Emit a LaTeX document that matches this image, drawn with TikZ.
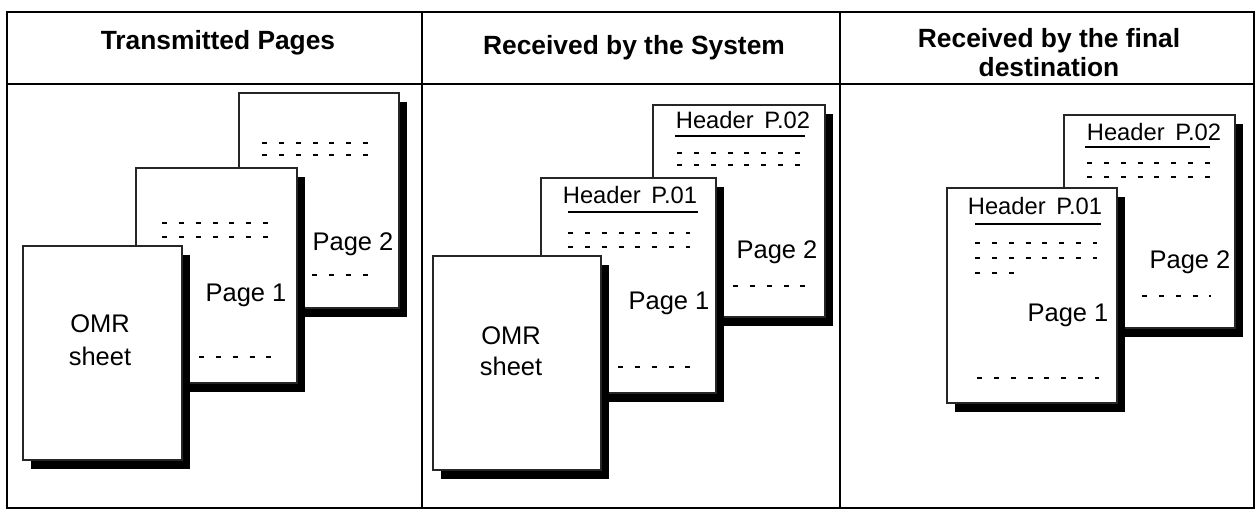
\documentclass[tikz,border=0pt]{standalone}
\usepackage{fontspec}
\setmainfont{Liberation Sans}
\usetikzlibrary{shadows}
\newcommand\pagerect[5]{\node[pagebox, minimum width={(#4-#2)*0.02cm}, minimum height={(#5-#3)*0.02cm}] (#1) at ({(#2+#4)/2},{(#3+#5)/2}) {};}
\begin{document}
\begin{tikzpicture}[x=0.02cm,y=-0.02cm,
  frame/.style={line width=1.1pt},
  pagebox/.style={draw=black!85, line width=0.6pt, fill=white, inner sep=0pt, outer sep=0pt,
    general shadow={fill=black, shadow xshift=0.16cm, shadow yshift=-0.18cm}},
  title/.style={font=\fontsize{15}{16.5}\selectfont\bfseries, align=center, inner sep=0pt},
  lbl/.style={font=\fontsize{14.5}{17}\selectfont, align=center, inner sep=0pt, anchor=base},
  hdr/.style={font=\fontsize{13.5}{16}\selectfont, inner sep=0pt, anchor=base},
  dsh/.style={line width=0.8pt, dash pattern=on 2.8pt off 6.8pt},
  uline/.style={line width=0.9pt}]
\useasboundingbox (0,0) rectangle (1256,516);
% frame
\draw[frame] (7,12) rectangle (1254,508);
\draw[frame] (422,12) -- (422,508);
\draw[frame] (840,12) -- (840,508);
\draw[frame] (7,84) -- (1254,84);
% titles
\node[title] (t1) at (218,43) {Transmitted Pages};
\node[title] (t2) at (634,48) {Received by the System};
\node[title] (t3) at (1049,53) {Received by the final\\destination};
% ---------- panel 1
\pagerect{a2}{239}{93}{399}{308}
\draw[dsh] (262,143) -- (373,143);
\draw[dsh] (262,155) -- (373,155);
\node[lbl] (a2t) at (353,251) {Page 2};
\draw[dsh] (312,275) -- (377,275);
\pagerect{a1}{136}{168}{297}{383}
\draw[dsh] (162,223) -- (278,223);
\draw[dsh] (162,237) -- (278,237);
\node[lbl] (a1t) at (246,302) {Page 1};
\draw[dsh] (199,357) -- (278,357);
\pagerect{a0}{23}{246}{182}{460}
\node[lbl] (a0t) at (100,333) {OMR};
\node[lbl] (a0s) at (100,365) {sheet};
% ---------- panel 2
\pagerect{b2}{653}{105}{825}{317}
\node[hdr] (b2h) at (743,129) {Header\hspace{0.45em}P.02};
\draw[uline] (675,136) -- (805,136);
\draw[dsh] (677,153) -- (800,153);
\draw[dsh] (677,165) -- (800,165);
\node[lbl] (b2t) at (777,259) {Page 2};
\draw[dsh] (733,286) -- (806,286);
\pagerect{b1}{541}{178}{716}{393}
\node[hdr] (b1h) at (630,204) {Header\hspace{0.45em}P.01};
\draw[uline] (568,212) -- (698,212);
\draw[dsh] (568,233) -- (690,233);
\draw[dsh] (568,247) -- (690,247);
\node[lbl] (b1t) at (669,310) {Page 1};
\draw[dsh] (618,367) -- (696,367);
\pagerect{b0}{433}{256}{601}{470}
\node[lbl] (b0t) at (511,345) {OMR};
\node[lbl] (b0s) at (511,376) {sheet};
% ---------- panel 3
\pagerect{c2}{1064}{115}{1235}{328}
\node[hdr] (c2h) at (1154,141) {Header\hspace{0.45em}P.02};
\draw[uline] (1085,147) -- (1210,147);
\draw[dsh] (1087,163) -- (1210,163);
\draw[dsh] (1087,177) -- (1210,177);
\node[lbl] (c2t) at (1190,269) {Page 2};
\draw[dsh] (1142,296) -- (1211,296);
\pagerect{c1}{947}{188}{1117}{403}
\node[hdr] (c1h) at (1035,215) {Header\hspace{0.45em}P.01};
\draw[uline] (975,224) -- (1101,224);
\draw[dsh] (975,243) -- (1097,243);
\draw[dsh] (975,258) -- (1097,258);
\draw[dsh] (975,273) -- (1020,273);
\node[lbl] (c1t) at (1068,322) {Page 1};
\draw[dsh] (977,378) -- (1099,378);
\end{tikzpicture}
\end{document}
